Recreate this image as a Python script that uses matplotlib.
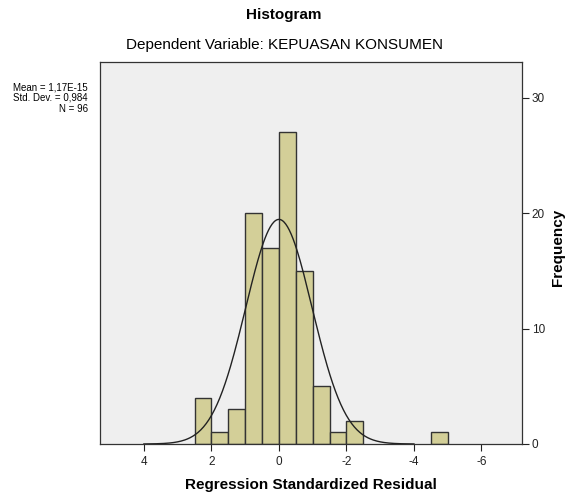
import numpy as np
import matplotlib
matplotlib.use("Agg")
from matplotlib import pyplot as plt

plt.rcParams['font.family'] = ['Liberation Sans', 'DejaVu Sans']

# residual bins (left edge, width 0.5) and counts
bin_left = [2.0, 1.5, 1.0, 0.5, 0.0, -0.5, -1.0, -1.5, -2.0, -2.5, -5.0]
counts = [4, 1, 3, 20, 17, 27, 15, 5, 1, 2, 1]
bin_width = 0.5
mean_val = 1.17e-15
sd_val = 0.984
n_val = 96
x_ticks = [4, 2, 0, -2, -4, -6]
y_ticks = [0, 10, 20, 30]

fig = plt.figure(figsize=(5.68, 4.95), dpi=100)
ax = fig.add_axes([100/568, 51/495, 422/568, 382/495])
ax.set_facecolor('#efefef')

ax.bar(bin_left, counts, width=bin_width, align='edge',
       color='#d3cf98', edgecolor='#333333', linewidth=1.0, zorder=2)

# normal curve
xs = np.linspace(-4, 4, 300)
ys = n_val * bin_width / (sd_val * np.sqrt(2*np.pi)) * np.exp(-0.5*((xs-mean_val)/sd_val)**2)
ax.plot(xs, ys, color='#222222', lw=1.0, zorder=3)

ax.set_xlim(5.3, -7.2)
ax.set_ylim(0, 33.1)
ax.set_xticks(x_ticks)
ax.set_xticklabels([str(t) for t in x_ticks])
ax.set_yticks(y_ticks)
ax.yaxis.tick_right()
ax.tick_params(axis='both', labelsize=8.5, length=5, width=0.8, direction='out', colors='#222222')
ax.tick_params(axis='y', pad=2)
for s in ax.spines.values():
    s.set_color('#333333')
    s.set_linewidth(0.9)

ax.set_xlabel('Regression Standardized Residual', fontsize=11, fontweight='bold', labelpad=7)

fig.text(558/568, 0.5, 'Frequency', ha='center', va='center', rotation=90,
         fontsize=11, fontweight='bold')
fig.text(0.5, 1-15/495, 'Histogram', ha='center', va='center', fontsize=11, fontweight='bold')
fig.text(0.5, 1-45/495, 'Dependent Variable: KEPUASAN KONSUMEN', ha='center', va='center', fontsize=11)
fig.text(88/568, 1-82/495, 'Mean = 1,17E-15\nStd. Dev. = 0,984\nN = 96',
         ha='right', va='top', fontsize=7, linespacing=1.1)

fig.savefig('out.png', dpi=100)
